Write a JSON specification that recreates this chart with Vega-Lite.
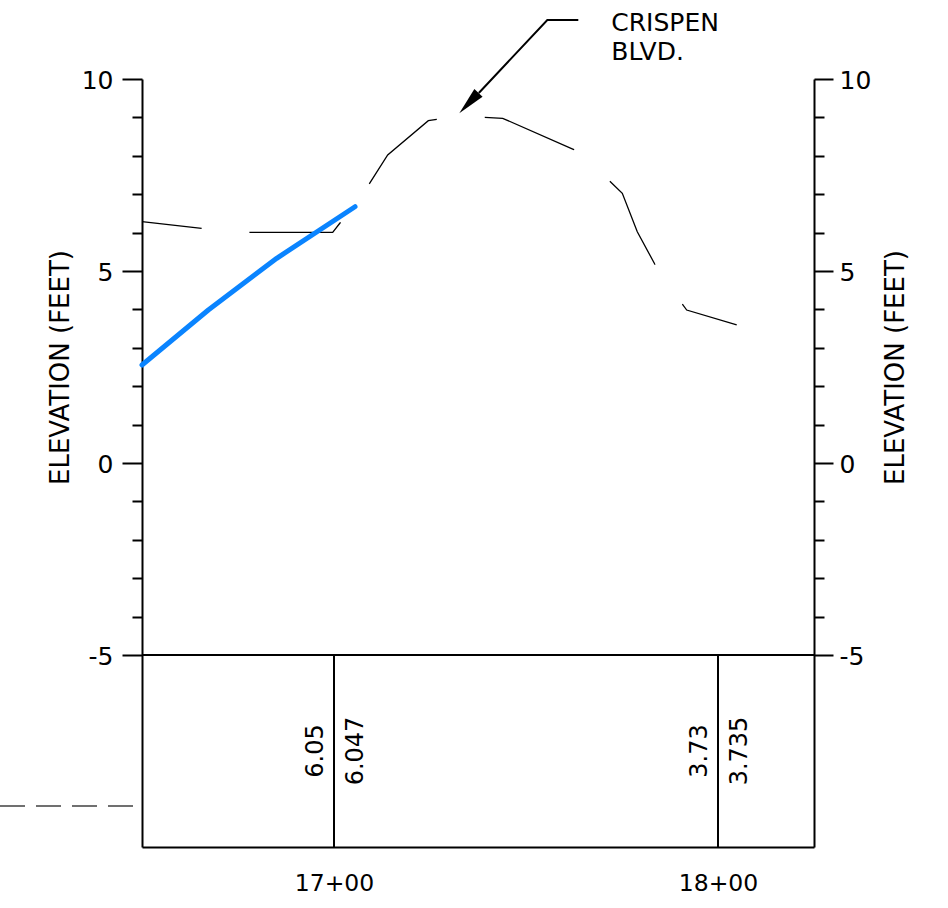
{
  "$schema": "https://vega.github.io/schema/vega-lite/v6.json",
  "width": 672,
  "height": 768,
  "autosize": {"type": "none"},
  "padding": {"left": 142, "top": 79, "right": 134, "bottom": 61},
  "background": "white",
  "view": {"stroke": null},
  "config": {
    "font": "DejaVu Sans",
    "axis": {"grid": false, "labelFont": "DejaVu Sans", "titleFont": "DejaVu Sans", "labelColor": "black", "titleColor": "black", "domainColor": "black", "tickColor": "black"}
  },
  "datasets": {
    "ground": [
      {"s": 1650.0, "e": 6.284}, {"s": 1665.55, "e": 6.112}, {"s": 1674.95, "e": 6.008},
      {"s": 1699.66, "e": 6.008}, {"s": 1701.56, "e": 6.25}, {"s": 1709.11, "e": 7.258},
      {"s": 1713.98, "e": 8.021}, {"s": 1724.56, "e": 8.914}, {"s": 1726.74, "e": 8.951},
      {"s": 1739.06, "e": 9.003}, {"s": 1743.93, "e": 8.977}, {"s": 1762.32, "e": 8.169},
      {"s": 1764.04, "e": 8.094}, {"s": 1771.69, "e": 7.352}, {"s": 1775.08, "e": 7.023},
      {"s": 1778.98, "e": 6.023}, {"s": 1783.52, "e": 5.182}, {"s": 1790.55, "e": 4.159},
      {"s": 1791.85, "e": 3.984}, {"s": 1804.87, "e": 3.594}
    ],
    "proposed": [
      {"s": 1650.0, "e": 2.552}, {"s": 1667.27, "e": 3.984}, {"s": 1685.08, "e": 5.331}, {"s": 1705.47, "e": 6.674}
    ],
    "baseline": [{"s": 1650, "s2": 1825, "e": -5}],
    "stations": [
      {"s": 1700, "existing": 6.05, "proposed": 6.047},
      {"s": 1800, "existing": 3.73, "proposed": 3.735}
    ],
    "leader": [{"s": 1737.71, "e": 9.635}, {"s": 1755.55, "e": 11.536}, {"s": 1763.62, "e": 11.536}],
    "arrow": [{"s": 1732.63, "e": 9.107}],
    "street": [{"s": 1772.21, "e": 11.26, "label": "CRISPEN"}, {"s": 1772.21, "e": 10.5, "label": "BLVD."}],
    "offsheet": [{"s": 1613.02, "e": -8.932}, {"s": 1648.7, "e": -8.932}]
  },
  "resolve": {"axis": {"x": "independent", "y": "independent"}},
  "layer": [
    {
      "data": {"name": "baseline"},
      "mark": {"type": "rule", "color": "black", "strokeWidth": 2},
      "encoding": {
        "x": {"field": "s", "type": "quantitative", "scale": {"domain": [1650, 1825], "nice": false, "zero": false},
          "axis": {"orient": "bottom", "values": [1700, 1800], "labelExpr": "toString(datum.value / 100) + '+00'", "ticks": false, "tickSize": 0, "domain": true, "domainWidth": 2, "domainColor": "black", "title": null, "labelFontSize": 23.5, "labelPadding": 43, "labelBaseline": "alphabetic", "labelFlush": false, "labelOverlap": false}},
        "x2": {"field": "s2"},
        "y": {"field": "e", "type": "quantitative", "scale": {"domain": [-10, 10], "nice": false, "zero": false},
          "axis": {"orient": "left", "values": [-5, 0, 5, 10], "labelExpr": "toString(datum.value)", "tickSize": 20, "tickWidth": 2, "domainWidth": 2, "labelFontSize": 25, "labelPadding": 9, "labelBaseline": "alphabetic", "labelOffset": 9, "labelFlush": false, "labelOverlap": false, "title": "ELEVATION (FEET)", "titleFontSize": 26, "titleFontWeight": "normal", "titleAngle": 270, "titleX": -73.5, "titleY": 288, "titleAlign": "center", "titleBaseline": "alphabetic"}}
      }
    },
    {
      "data": {"name": "ground"},
      "mark": {"type": "line", "color": "black", "strokeWidth": 1.3, "strokeDash": [96, 48], "strokeDashOffset": 36},
      "encoding": {
        "x": {"field": "s", "type": "quantitative", "scale": {"domain": [1650, 1825], "nice": false, "zero": false}, "axis": null},
        "y": {"field": "e", "type": "quantitative", "scale": {"domain": [-10, 10], "nice": false, "zero": false},
          "axis": {"orient": "left", "values": [-4, -3, -2, -1, 1, 2, 3, 4, 6, 7, 8, 9], "tickSize": 10, "tickWidth": 2, "labels": false, "domain": false, "title": null}}
      }
    },
    {
      "data": {"name": "proposed"},
      "mark": {"type": "line", "color": "#0a84ff", "strokeWidth": 5, "strokeCap": "round", "strokeJoin": "round"},
      "encoding": {
        "x": {"field": "s", "type": "quantitative", "scale": {"domain": [1650, 1825], "nice": false, "zero": false}, "axis": null},
        "y": {"field": "e", "type": "quantitative", "scale": {"domain": [-10, 10], "nice": false, "zero": false},
          "axis": {"orient": "right", "values": [-5, 0, 5, 10], "labelExpr": "toString(datum.value)", "tickSize": 19, "tickWidth": 2, "domainWidth": 2, "labelFontSize": 25, "labelPadding": 6, "labelBaseline": "alphabetic", "labelOffset": 9, "labelFlush": false, "labelOverlap": false, "title": "ELEVATION (FEET)", "titleFontSize": 26, "titleFontWeight": "normal", "titleAngle": 270, "titleX": 89.3, "titleY": 288, "titleAlign": "center", "titleBaseline": "alphabetic"}}
      }
    },
    {
      "data": {"name": "offsheet"},
      "mark": {"type": "line", "color": "#707070", "strokeWidth": 2, "strokeDash": [25, 11]},
      "encoding": {
        "x": {"field": "s", "type": "quantitative", "scale": {"domain": [1650, 1825], "nice": false, "zero": false}, "axis": null},
        "y": {"field": "e", "type": "quantitative", "scale": {"domain": [-10, 10], "nice": false, "zero": false},
          "axis": {"orient": "right", "values": [-4, -3, -2, -1, 1, 2, 3, 4, 6, 7, 8, 9], "tickSize": 10, "tickWidth": 2, "labels": false, "domain": false, "title": null}}
      }
    },
    {
      "data": {"name": "stations"},
      "mark": {"type": "rule", "color": "black", "strokeWidth": 2},
      "encoding": {
        "x": {"field": "s", "type": "quantitative", "scale": {"domain": [1650, 1825], "nice": false, "zero": false}, "axis": null},
        "y": {"datum": -5, "type": "quantitative", "scale": {"domain": [-10, 10], "nice": false, "zero": false}, "axis": null},
        "y2": {"datum": -10}
      }
    },
    {
      "data": {"name": "stations"},
      "mark": {"type": "text", "angle": 270, "align": "center", "baseline": "alphabetic", "dy": -11, "fontSize": 24, "font": "DejaVu Sans", "color": "black"},
      "encoding": {
        "x": {"field": "s", "type": "quantitative", "scale": {"domain": [1650, 1825], "nice": false, "zero": false}, "axis": null},
        "y": {"datum": -7.5, "type": "quantitative", "scale": {"domain": [-10, 10], "nice": false, "zero": false}, "axis": null},
        "text": {"field": "existing", "type": "nominal"}
      }
    },
    {
      "data": {"name": "stations"},
      "mark": {"type": "text", "angle": 270, "align": "center", "baseline": "alphabetic", "dy": 29, "fontSize": 24, "font": "DejaVu Sans", "color": "black"},
      "encoding": {
        "x": {"field": "s", "type": "quantitative", "scale": {"domain": [1650, 1825], "nice": false, "zero": false}, "axis": null},
        "y": {"datum": -7.5, "type": "quantitative", "scale": {"domain": [-10, 10], "nice": false, "zero": false}, "axis": null},
        "text": {"field": "proposed", "type": "nominal"}
      }
    },
    {
      "data": {"name": "leader"},
      "mark": {"type": "line", "color": "black", "strokeWidth": 2},
      "encoding": {
        "x": {"field": "s", "type": "quantitative", "scale": {"domain": [1650, 1825], "nice": false, "zero": false}, "axis": null},
        "y": {"field": "e", "type": "quantitative", "scale": {"domain": [-10, 10], "nice": false, "zero": false}, "axis": null}
      }
    },
    {
      "data": {"name": "arrow"},
      "mark": {"type": "point", "shape": "M0,0 L0.4,2 L-0.4,2 Z", "filled": true, "color": "black", "opacity": 1, "size": 784, "angle": 223.2, "strokeWidth": 0},
      "encoding": {
        "x": {"field": "s", "type": "quantitative", "scale": {"domain": [1650, 1825], "nice": false, "zero": false}, "axis": null},
        "y": {"field": "e", "type": "quantitative", "scale": {"domain": [-10, 10], "nice": false, "zero": false}, "axis": null}
      }
    },
    {
      "data": {"name": "street"},
      "mark": {"type": "text", "align": "left", "baseline": "alphabetic", "fontSize": 25, "font": "DejaVu Sans", "color": "black"},
      "encoding": {
        "x": {"field": "s", "type": "quantitative", "scale": {"domain": [1650, 1825], "nice": false, "zero": false}, "axis": null},
        "y": {"field": "e", "type": "quantitative", "scale": {"domain": [-10, 10], "nice": false, "zero": false}, "axis": null},
        "text": {"field": "label", "type": "nominal"}
      }
    }
  ]
}
